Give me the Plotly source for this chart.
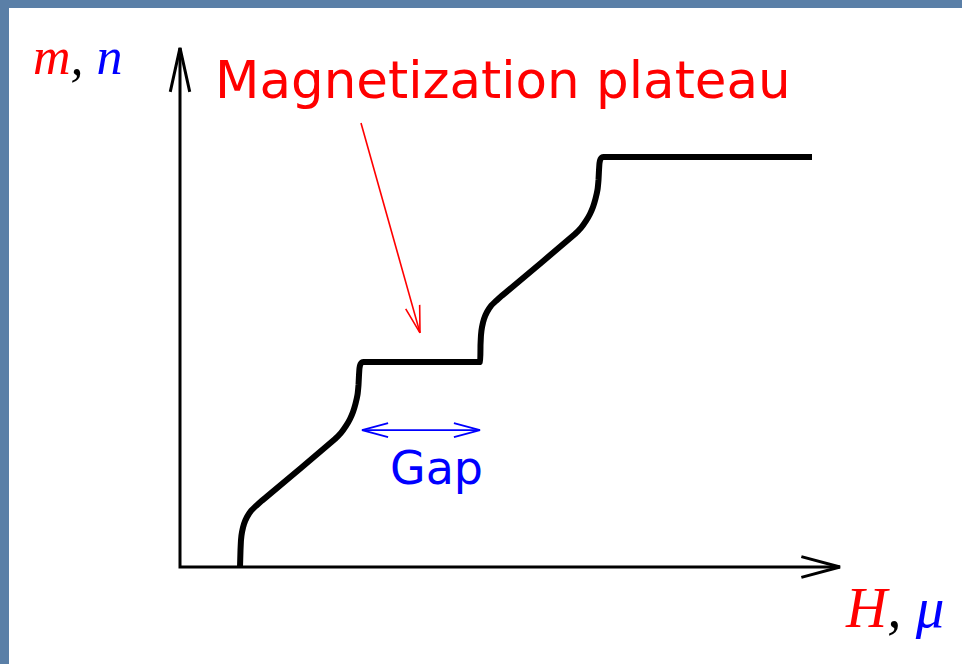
import numpy as np
import plotly.graph_objects as go

FIG_W, FIG_H = 962, 664

# Magnetization curve m(H) with a half-saturation plateau (saturation m = 1)
field = [0.600, 0.605, 0.610, 0.620, 0.640, 0.670, 0.710, 0.760, 0.820, 0.880,
         1.550, 1.610, 1.660, 1.700, 1.730, 1.755, 1.775, 1.785, 1.790, 1.795,
         1.805, 1.820, 1.840, 1.870, 2.970,
         3.000, 3.005, 3.010, 3.020, 3.040, 3.070, 3.110, 3.160, 3.220, 3.280,
         3.950, 4.010, 4.060, 4.100, 4.130, 4.155, 4.175, 4.185, 4.190, 4.195,
         4.205, 4.220, 4.240, 4.270, 6.320]
magnet = [0.000, 0.041, 0.066, 0.085, 0.105, 0.122, 0.137, 0.149, 0.162, 0.174,
          0.312, 0.327, 0.344, 0.361, 0.378, 0.398, 0.420, 0.444, 0.468, 0.485,
          0.495, 0.499, 0.500, 0.500, 0.500,
          0.500, 0.541, 0.566, 0.585, 0.605, 0.622, 0.637, 0.649, 0.662, 0.674,
          0.812, 0.827, 0.844, 0.861, 0.878, 0.898, 0.920, 0.944, 0.968, 0.985,
          0.995, 0.999, 1.000, 1.000, 1.000]

# axis extents (arrow tips)
h_axis_end = 6.60
m_axis_end = 1.266

# plateau marker: pointer arrow (tail, tip) and gap interval
pointer_tail = (1.81, 1.083)
pointer_tip = (2.40, 0.571)
gap_start, gap_end, gap_level = 1.82, 3.00, 0.334

# plotting window in data units
x_range = [-1.80, 7.82]
y_range = [-0.2366, 1.3829]


def to_px(x, y):
    px = (x - x_range[0]) / (x_range[1] - x_range[0]) * FIG_W
    py = (y_range[1] - y) / (y_range[1] - y_range[0]) * FIG_H
    return px, py


def to_data(px, py):
    x = x_range[0] + px / FIG_W * (x_range[1] - x_range[0])
    y = y_range[1] - py / FIG_H * (y_range[1] - y_range[0])
    return x, y


def open_head(tail, tip, length, half_angle_deg):
    """Return x, y lists (barb -> tip -> barb) for an open V arrowhead."""
    tx, ty = to_px(*tail)
    hx, hy = to_px(*tip)
    ang = np.arctan2(ty - hy, tx - hx)
    a = np.radians(half_angle_deg)
    barbs = []
    for s in (1, -1):
        bx = hx + length * np.cos(ang + s * a)
        by = hy + length * np.sin(ang + s * a)
        barbs.append(to_data(bx, by))
    return ([barbs[0][0], tip[0], barbs[1][0]],
            [barbs[0][1], tip[1], barbs[1][1]])


fig = go.Figure()


def add_line(xs, ys, color, width, shape="linear"):
    fig.add_trace(go.Scatter(x=xs, y=ys, mode="lines",
                             line=dict(color=color, width=width, simplify=False,
                                       shape=shape, smoothing=0.3),
                             hoverinfo="skip", showlegend=False))


# coordinate axes with open arrowheads
add_line([0, 0, h_axis_end], [m_axis_end, 0, 0], "black", 3)
hx, hy = open_head((0, 0), (h_axis_end, 0), 40, 15)
add_line(hx, hy, "black", 3)
vx, vy = open_head((0, 0), (0, m_axis_end), 45, 12.5)
add_line(vx, vy, "black", 3)

# magnetization curve
add_line(field, magnet, "black", 6, shape="spline")

# pointer to the plateau
add_line([pointer_tail[0], pointer_tip[0]], [pointer_tail[1], pointer_tip[1]], "#ff0000", 1.6)
px_, py_ = open_head(pointer_tail, pointer_tip, 28, 15)
add_line(px_, py_, "#ff0000", 1.6)

# double arrow marking the gap
add_line([gap_start, gap_end], [gap_level, gap_level], "#0000ff", 1.8)
for a, b in ((gap_end, gap_start), (gap_start, gap_end)):
    gx, gy = open_head((a, gap_level), (b, gap_level), 27, 15)
    add_line(gx, gy, "#0000ff", 1.8)


def label(px, py, text, size, family, color="black", xanchor="left"):
    fig.add_annotation(x=px / FIG_W, y=1 - py / FIG_H, xref="paper", yref="paper",
                       text=text, showarrow=False, xanchor=xanchor, yanchor="middle",
                       font=dict(size=size, family=family, color=color))


label(213, 80, "Magnetization plateau", 51.5, "DejaVu Sans", "#ff0000")
label(436, 468, "Gap", 46, "DejaVu Sans", "#0000ff", xanchor="center")
label(31, 57, "<i><span style='color:#ff0000'>m</span>, <span style='color:#0000ff'>n</span></i>",
      52, "Liberation Serif")
label(843, 607, "<i><span style='color:#ff0000'>H</span>, <span style='color:#0000ff'>μ</span></i>",
      57, "Liberation Serif")

fig.update_layout(
    width=FIG_W, height=FIG_H,
    margin=dict(l=0, r=0, t=0, b=0),
    paper_bgcolor="#5a7fa7",
    plot_bgcolor="rgba(0,0,0,0)",
    xaxis=dict(range=x_range, visible=False, fixedrange=True),
    yaxis=dict(range=y_range, visible=False, fixedrange=True),
    shapes=[dict(type="rect", xref="paper", yref="paper",
                 x0=9 / FIG_W, x1=1, y0=0, y1=1 - 8 / FIG_H,
                 fillcolor="white", line=dict(width=0), layer="below")],
)

fig.write_html("out.html")
